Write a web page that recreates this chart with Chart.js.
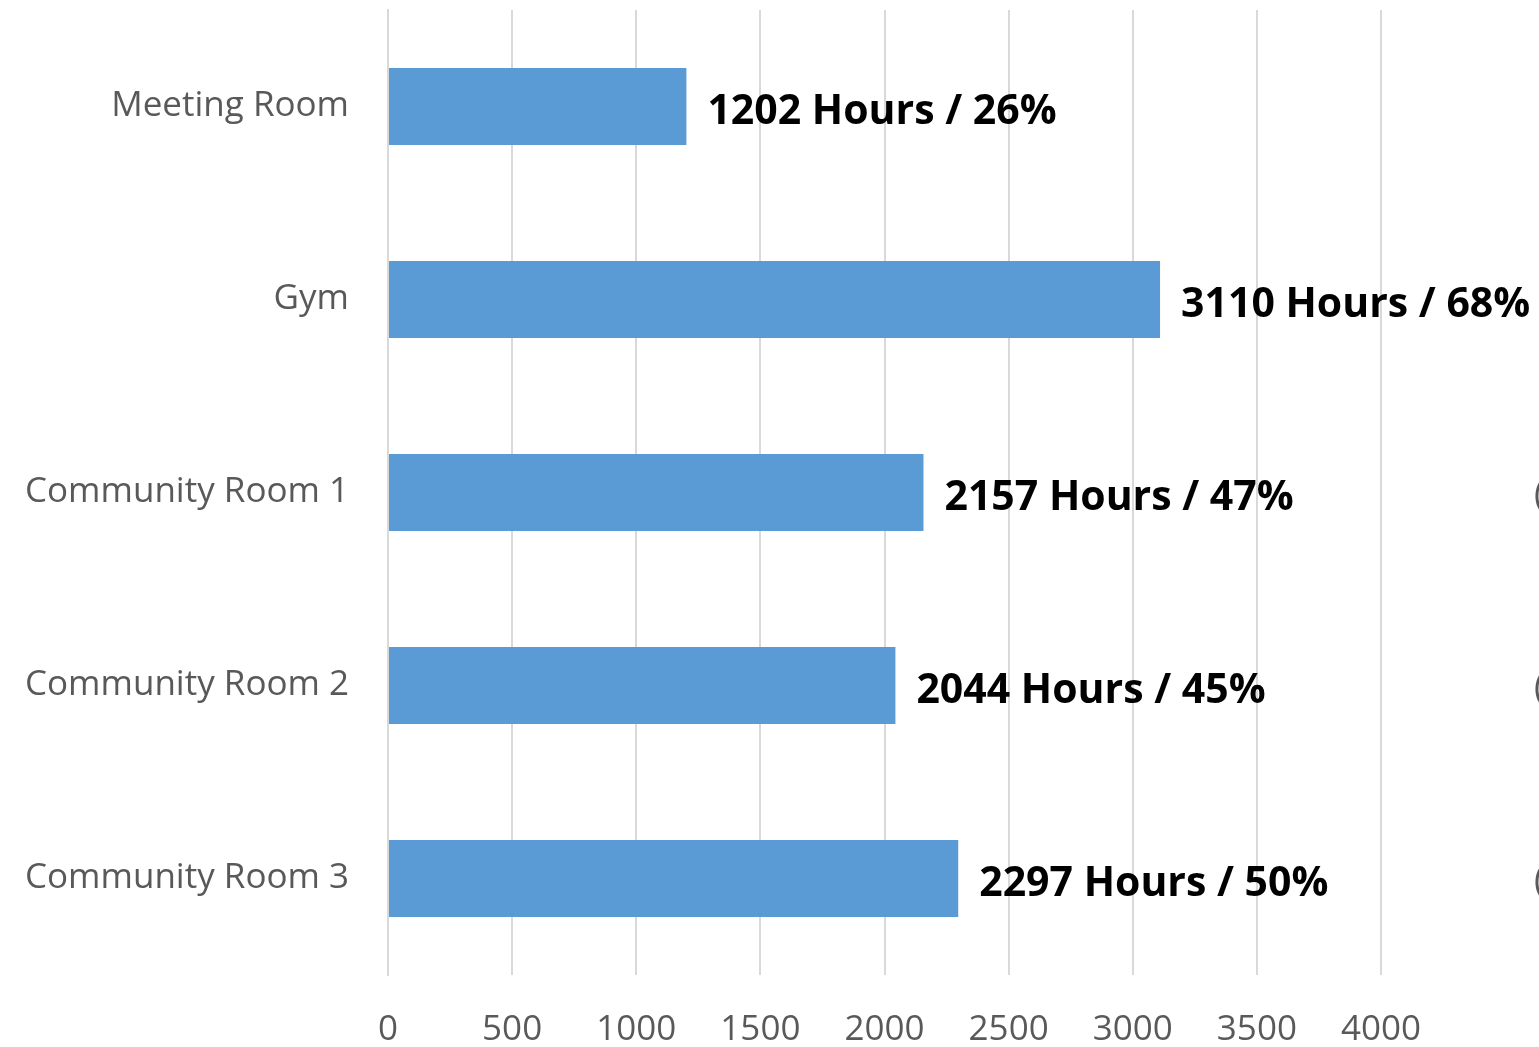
<!DOCTYPE html>
<html>
<head>
<meta charset="utf-8">
<script src="https://cdn.jsdelivr.net/npm/chart.js@4.4.0/dist/chart.umd.min.js"></script>
<style>
  html, body { margin: 0; padding: 0; background: #fff; }
  .wrap { width: 1539px; height: 1047px; position: relative; }
</style>
</head>
<body>
<div class="wrap"><canvas id="chart"></canvas></div>
<script>
// data
const rooms = ["Meeting Room", "Gym", "Community Room 1", "Community Room 2", "Community Room 3"];
const hours = [1202, 3110, 2157, 2044, 2297];
const shares = [26, 68, 47, 45, 50];
const xTicks = [0, 500, 1000, 1500, 2000, 2500, 3000, 3500, 4000];
// rows where a clipped grey label peeks in at the right edge
const clippedRows = [2, 3, 4];

const fontFamily = "'Open Sans', 'Noto Sans', sans-serif";
const gridColor = "#d9d9d9";
const textGrey = "#595959";

// bold value labels right of each bar
const barLabels = {
  id: "barLabels",
  afterDatasetsDraw(chart) {
    const ctx = chart.ctx;
    const meta = chart.getDatasetMeta(0);
    ctx.save();
    ctx.font = "bold 41px " + fontFamily;
    ctx.fillStyle = "#000";
    ctx.textBaseline = "middle";
    ctx.textAlign = "left";
    meta.data.forEach((bar, i) => {
      ctx.fillText(`${hours[i]} Hours / ${shares[i]}%`, bar.x + 21, bar.y + 6);
    });
    ctx.font = "36px " + fontFamily;
    ctx.fillStyle = textGrey;
    clippedRows.forEach((i) => {
      ctx.fillText("(", 1534, meta.data[i].y + 3);
    });
    ctx.restore();
  },
};

const ctx = document.getElementById("chart").getContext("2d");
new Chart(ctx, {
  type: "bar",
  data: {
    labels: rooms,
    datasets: [
      {
        data: hours,
        backgroundColor: "#5b9bd5",
        borderWidth: 0,
        barPercentage: 0.4,
        categoryPercentage: 1,
      },
    ],
  },
  options: {
    indexAxis: "y",
    responsive: true,
    maintainAspectRatio: false,
    animation: false,
    layout: {
      padding: { top: 10, right: 158, left: 0, bottom: 0 },
    },
    scales: {
      x: {
        min: 0,
        max: 4000,
        afterBuildTicks: (scale) => {
          scale.ticks = xTicks.map((v) => ({ value: v }));
        },
        ticks: {
          color: textGrey,
          font: { family: fontFamily, size: 35 },
          padding: 34,
          maxRotation: 0,
          callback: (value) => String(value),
        },
        grid: {
          color: gridColor,
          lineWidth: 2,
          drawTicks: false,
        },
        border: { display: false },
        afterFit: (scale) => {
          scale.height = 72;
          scale.paddingLeft = 0;
          scale.paddingRight = 0;
        },
      },
      y: {
        ticks: {
          color: textGrey,
          font: { family: fontFamily, size: 35 },
          padding: 39,
        },
        grid: { display: false, drawTicks: false },
        border: { color: gridColor, width: 2 },
        afterFit: (scale) => {
          scale.width = 388;
          scale.paddingTop = 0;
          scale.paddingBottom = 0;
        },
      },
    },
    plugins: {
      legend: { display: false },
      tooltip: { enabled: false },
    },
  },
  plugins: [barLabels],
});
</script>
</body>
</html>
